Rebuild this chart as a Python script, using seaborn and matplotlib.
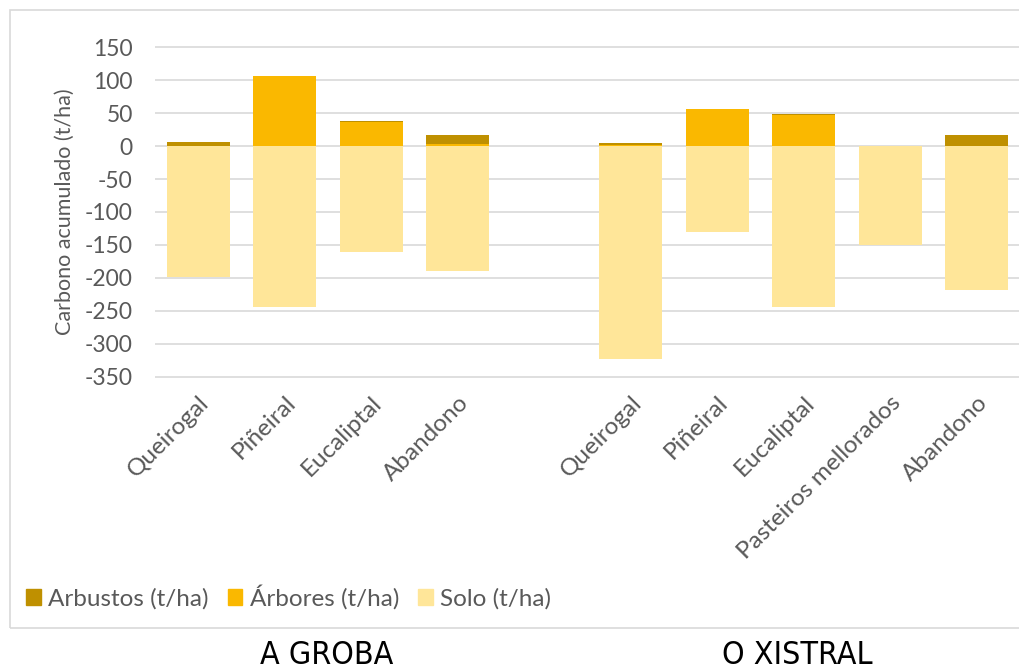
import numpy as np
import pandas as pd
import seaborn as sns
import matplotlib.pyplot as plt
from matplotlib.patches import Rectangle, Patch

# data
groups = ["A GROBA", "O XISTRAL"]
usos_groba = ["Queirogal", "Piñeiral", "Eucaliptal", "Abandono"]
usos_xistral = ["Queirogal", "Piñeiral", "Eucaliptal", "Pasteiros mellorados", "Abandono"]
arbustos = [7, 0, 1, 13.5, 3, 0, 1, 0, 16.5]
arbores = [0, 106, 37, 3.5, 1, 56.5, 48, 0, 0]
solo = [-198, -244, -161, -189, -323, -131, -244, -150, -219]

tick_labels = usos_groba + [""] + usos_xistral
keys = [f"{groups[0]}|{u}" for u in usos_groba] + [f"{groups[1]}|{u}" for u in usos_xistral]
order = keys[:4] + ["gap"] + keys[4:]

df = pd.DataFrame({"key": keys, "arbustos": arbustos, "arbores": arbores, "solo": solo})
df["top"] = df["arbores"] + df["arbustos"]

c_arb = "#BF9000"
c_arv = "#FAB800"
c_solo = "#FFE699"
grey = "#595959"

sns.set_theme(style="white")
plt.rcParams["font.family"] = ["Lato", "DejaVu Sans"]
plt.rcParams["axes.unicode_minus"] = False

fig = plt.figure(figsize=(10.2, 6.72), dpi=100)
ax = fig.add_axes([0.152, 1 - 378 / 672, 0.848, (378 - 46) / 672])

bar_kw = dict(order=order, width=0.73, saturation=1, linewidth=0, ax=ax)
sns.barplot(data=df, x="key", y="solo", color=c_solo, zorder=2, **bar_kw)
sns.barplot(data=df, x="key", y="top", color=c_arb, zorder=2, **bar_kw)
sns.barplot(data=df, x="key", y="arbores", color=c_arv, zorder=3, **bar_kw)

ax.set_ylim(-352, 152)
ax.set_yticks(np.arange(-350, 151, 50))
ax.yaxis.grid(True, color="#d9d9d9", linewidth=1.2, zorder=0)
ax.set_axisbelow(True)
for s in ax.spines.values():
    s.set_visible(False)
ax.tick_params(axis="y", labelsize=16.5, colors=grey, length=0, pad=16)
ax.tick_params(axis="x", labelsize=17.5, colors=grey, length=0, pad=10)
ax.set_xticks(range(len(order)))
ax.set_xticklabels(tick_labels, rotation=45, ha="right", rotation_mode="anchor")
ax.set_xlabel("")
ax.set_ylabel("Carbono acumulado (t/ha)", fontsize=15.5, color=grey, labelpad=7)
ax.set_xlim(-0.5, len(order) - 0.5)

# chart frame
fig.patches.append(Rectangle((10 / 1020, 1 - 628 / 672), 1.0, (628 - 10) / 672,
                             transform=fig.transFigure, fill=False,
                             edgecolor="#d9d9d9", linewidth=1.2))

handles = [Patch(color=c_arb, label="Arbustos (t/ha)"),
           Patch(color=c_arv, label="Árbores (t/ha)"),
           Patch(color=c_solo, label="Solo (t/ha)")]
leg = fig.legend(handles=handles, loc="center left", bbox_to_anchor=(0.004, 1 - 597 / 672),
                 ncol=3, frameon=False, fontsize=17.5, handlelength=0.6, handleheight=0.6,
                 handletextpad=0.3, columnspacing=0.8)
for t in leg.get_texts():
    t.set_color(grey)

for name, xc in zip(groups, [327, 797]):
    fig.text(xc / 1020, 1 - 656 / 672, name, ha="center", va="center", fontsize=23,
             family=["Liberation Sans Narrow", "DejaVu Sans"], fontstretch="condensed",
             color="black")

fig.savefig("out.png", dpi=100)
